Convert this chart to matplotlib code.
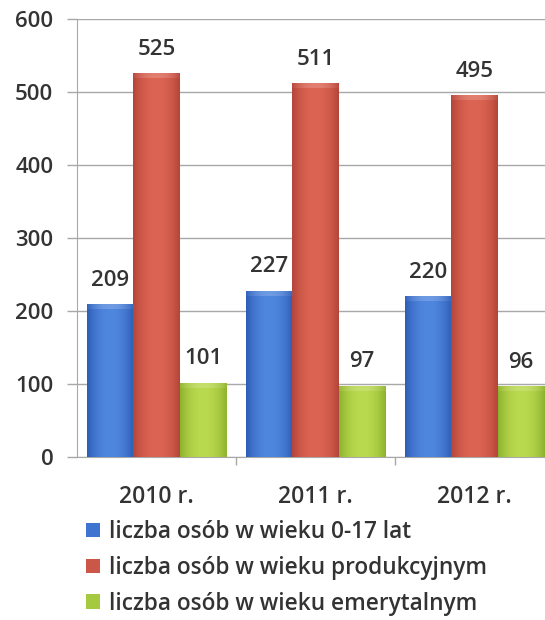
import numpy as np
import matplotlib
matplotlib.use("Agg")
import matplotlib.pyplot as plt
from matplotlib.colors import to_rgb

categories = ["2010 r.", "2011 r.", "2012 r."]
series_names = [
    "liczba osób w wieku 0-17 lat",
    "liczba osób w wieku produkcyjnym",
    "liczba osób w wieku emerytalnym",
]
values_0_17 = [209, 227, 220]
values_prod = [525, 511, 495]
values_emer = [101, 97, 96]
y_ticks = [0, 100, 200, 300, 400, 500, 600]

series = [values_0_17, values_prod, values_emer]
center_colors = ["#4F86DE", "#DC6452", "#B9D94E"]
edge_colors = ["#2E5DB5", "#B4453A", "#8DB22E"]
legend_colors = ["#3E73CF", "#CB5748", "#A5C93F"]

plt.rcParams["font.family"] = ["Open Sans", "DejaVu Sans"]
plt.rcParams["font.weight"] = "semibold"
text_color = "#333333"
grid_color = "#A8A8A8"

fig = plt.figure(figsize=(5.45, 6.2), dpi=100)
ax = fig.add_axes([77 / 545, 1 - 457 / 620, 477 / 545, 438 / 620])

x = np.arange(len(categories))
w = 0.2925
offsets = [-w, 0, w]

def grad_img(c_center, c_edge, n=64):
    t = np.linspace(-1, 1, n)
    f = np.abs(t) ** 2.2
    cc = np.array(to_rgb(c_center))
    ce = np.array(to_rgb(c_edge))
    row = cc[None, :] * (1 - f[:, None]) + ce[None, :] * f[:, None]
    return row[None, :, :]

handles = []
for i, vals in enumerate(series):
    bars = ax.bar(x + offsets[i], vals, width=w, color=legend_colors[i],
                  edgecolor="none", zorder=2, label=series_names[i])
    img = grad_img(center_colors[i], edge_colors[i])
    for b in bars:
        x0, bw, h = b.get_x(), b.get_width(), b.get_height()
        ax.imshow(img, extent=(x0, x0 + bw, 0, h), aspect="auto",
                  zorder=3, interpolation="bilinear")
        ax.imshow(grad_img("#FFFFFF", center_colors[i]), extent=(x0, x0 + bw, h - 6, h),
                  aspect="auto", zorder=3.5, alpha=0.18, interpolation="bilinear")
    for b, v in zip(bars, vals):
        ax.annotate(str(v), (b.get_x() + b.get_width() / 2, b.get_height()),
                    xytext=(0, 17.5), textcoords="offset points",
                    ha="center", va="center", fontsize=16, color=text_color, zorder=5)
    handles.append(bars)

ax.set_xlim(-0.5, 2.5)
ax.set_ylim(0, 600)
ax.set_yticks(y_ticks)
ax.set_xticks(x)
ax.set_xticklabels(categories)
ax.set_xticks([0.5, 1.5, 2.5], minor=True)
ax.tick_params(axis="x", which="major", length=0, pad=20, labelsize=16.5, labelcolor=text_color)
ax.tick_params(axis="x", which="minor", length=6, color=grid_color, width=1)
ax.tick_params(axis="y", length=7, color=grid_color, width=1, pad=10,
               labelsize=16, labelcolor=text_color)
ax.yaxis.grid(True, color=grid_color, linewidth=1.0, zorder=0)
ax.set_axisbelow(True)
for s in ["top", "right"]:
    ax.spines[s].set_visible(False)
ax.spines["left"].set_color(grid_color)
ax.spines["bottom"].set_color(grid_color)

leg = fig.legend(handles=handles, labels=series_names, loc="upper left",
                 bbox_to_anchor=(86 / 545, 1 - 520 / 620), frameon=False,
                 fontsize=16.3, handlelength=0.6, handleheight=0.6,
                 handletextpad=0.4, labelspacing=0.52, borderpad=0,
                 borderaxespad=0)
for t in leg.get_texts():
    t.set_color(text_color)

fig.savefig("out.png", dpi=100)
